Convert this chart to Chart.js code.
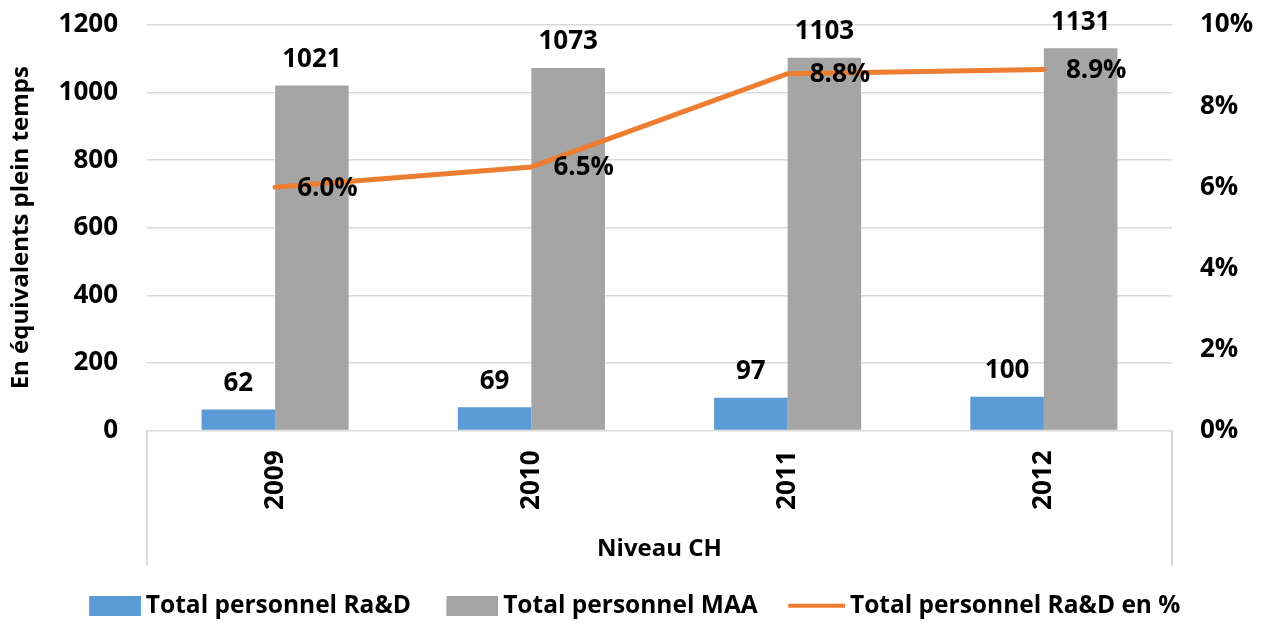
<!DOCTYPE html>
<html><head><meta charset="utf-8">
<script src="https://cdn.jsdelivr.net/npm/chart.js@4.4.1/dist/chart.umd.min.js"></script>
<style>html,body{margin:0;padding:0;background:#fff}#wrap{width:1264px;height:622px}</style>
</head><body><div id="wrap"><canvas id="c" width="1264" height="622"></canvas></div>
<script>
const categories = ['2009', '2010', '2011', '2012'];
const groupLabel = 'Niveau CH';
const rdValues = [62, 69, 97, 100];
const maaValues = [1021, 1073, 1103, 1131];
const rdPercent = [6.0, 6.5, 8.8, 8.9];
const seriesNames = ['Total personnel Ra&D', 'Total personnel MAA', 'Total personnel Ra&D en %'];
const yTitle = 'En équivalents plein temps';

const BLUE = '#5B9BD5', GRAY = '#A5A5A5', ORANGE = '#ED7D31', GRID = '#D9D9D9';
const FONT = '"Open Sans"';
Chart.defaults.font.family = FONT;
Chart.defaults.color = '#000';

const LEG_FS = 24.5, LEG_PAD = 30;
const LEG_W = Math.round(92 - LEG_PAD - LEG_FS / 2), LEG_IW = Math.round(LEG_W + LEG_FS - 10);
function legendIcon(kind, color) {
  const c = document.createElement('canvas');
  c.width = LEG_IW; c.height = 20;
  const g = c.getContext('2d');
  g.fillStyle = color;
  if (kind === 'rect') g.fillRect(LEG_IW - 52, 0, 52, 20);
  else g.fillRect(LEG_IW - 57, 8, 57, 4);
  return c;
}
const icons = [legendIcon('rect', BLUE), legendIcon('rect', GRAY), legendIcon('line', ORANGE)];

const labelPlugin = {
  id: 'valueLabels',
  afterDatasetsDraw(chart) {
    const ctx = chart.ctx;
    ctx.save();
    ctx.font = 'bold 26px ' + FONT;
    ctx.fillStyle = '#000';
    ctx.textBaseline = 'middle';
    [0, 1].forEach(di => {
      const meta = chart.getDatasetMeta(di);
      const vals = chart.data.datasets[di].data;
      ctx.textAlign = 'center';
      meta.data.forEach((el, i) => ctx.fillText(String(vals[i]), el.x, el.y - 26));
    });
    const lm = chart.getDatasetMeta(2);
    const lv = chart.data.datasets[2].data;
    ctx.textAlign = 'left';
    lm.data.forEach((el, i) => ctx.fillText(lv[i].toFixed(1) + '%', el.x + 22, el.y + 1));
    ctx.restore();
  }
};
const separatorPlugin = {
  id: 'separators',
  afterDraw(chart) {
    const ctx = chart.ctx, a = chart.chartArea, xs = chart.scales.x;
    ctx.save();
    ctx.strokeStyle = GRID; ctx.lineWidth = 2;
    ctx.beginPath();
    [a.left, a.right].forEach(x => { ctx.moveTo(x, a.bottom); ctx.lineTo(x, xs.bottom + 2); });
    ctx.stroke();
    ctx.restore();
  }
};

new Chart(document.getElementById('c'), {
  data: {
    labels: categories,
    datasets: [
      { type: 'bar', label: seriesNames[0], data: rdValues, backgroundColor: BLUE, yAxisID: 'y', order: 2, barPercentage: 1, categoryPercentage: 0.574 },
      { type: 'bar', label: seriesNames[1], data: maaValues, backgroundColor: GRAY, yAxisID: 'y', order: 2, barPercentage: 1, categoryPercentage: 0.574 },
      { type: 'line', label: seriesNames[2], data: rdPercent, borderColor: ORANGE, borderWidth: 5, pointRadius: 0, tension: 0, yAxisID: 'y1', order: 1, borderCapStyle: 'round' }
    ]
  },
  options: {
    responsive: false,
    animation: false,
    layout: { padding: { top: 25, left: 0, right: 0, bottom: -6 } },
    plugins: {
      tooltip: { enabled: false },
      legend: {
        position: 'bottom',
        labels: {
          font: { size: LEG_FS, weight: 'bold' },
          color: '#000',
          usePointStyle: true,
          pointStyleWidth: LEG_W,
          boxHeight: 20,
          padding: LEG_PAD,
          generateLabels: (chart) => chart.data.datasets.map((d, i) => ({
            text: d.label, pointStyle: icons[i], fillStyle: 'transparent', strokeStyle: 'transparent', lineWidth: 0, datasetIndex: i, fontColor: '#000'
          }))
        }
      }
    },
    scales: {
      x: {
        grid: { display: false, drawTicks: false },
        border: { display: false },
        ticks: { font: { size: 26, weight: 'bold' }, minRotation: 90, maxRotation: 90, padding: 20, color: '#000' },
        title: { display: true, text: groupLabel, font: { size: 24, weight: 'bold' }, color: '#000', padding: { top: 0, bottom: 0 } },
        afterFit(s) { s.height = 133; }
      },
      y: {
        position: 'left', min: 0, max: 1200,
        ticks: { stepSize: 200, font: { size: 26, weight: 'bold' }, padding: 29, color: '#000', callback: v => String(v) },
        grid: { color: GRID, lineWidth: 1.5, drawTicks: false },
        border: { display: false },
        title: { display: true, text: yTitle, font: { size: 24, weight: 'bold' }, color: '#000', padding: { top: 7, bottom: 0 } },
        afterFit(s) { s.width = 147; s.paddingTop = 0; s.paddingBottom = 0; }
      },
      y1: {
        position: 'right', min: 0, max: 10,
        ticks: { stepSize: 2, font: { size: 26, weight: 'bold' }, padding: 28, color: '#000', callback: v => v + '%' },
        grid: { display: false, drawTicks: false },
        border: { display: false },
        afterFit(s) { s.width = 92; s.paddingTop = 0; s.paddingBottom = 0; }
      }
    }
  },
  plugins: [labelPlugin, separatorPlugin]
});
</script></body></html>
